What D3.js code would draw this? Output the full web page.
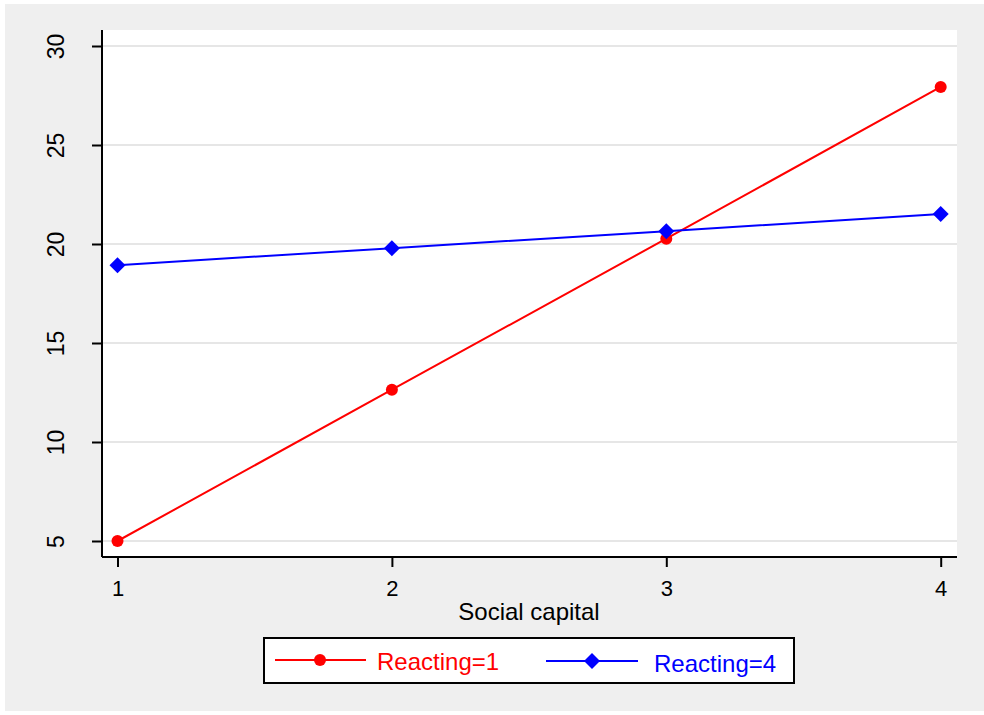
<!DOCTYPE html>
<html>
<head>
<meta charset="utf-8">
<script src="https://cdn.jsdelivr.net/npm/d3@7"></script>
<style>
  html, body { margin: 0; padding: 0; background: #ffffff; }
  svg { display: block; }
  svg text { font-family: Arial, "Liberation Sans", sans-serif; }
</style>
</head>
<body>
<svg id="chart" width="984" height="715"></svg>
<script>
// Predicted values by social capital, for two levels of reacting
const socialCapital = [1, 2, 3, 4];
const reacting1 = [5.0, 12.64, 20.27, 27.93];
const reacting4 = [18.93, 19.79, 20.65, 21.51];
const yTicks = [5, 10, 15, 20, 25, 30];
const xTicks = [1, 2, 3, 4];
const seriesNames = ["Reacting=1", "Reacting=4"];
const seriesColors = ["#ff0000", "#0000ff"];

const svg = d3.select("#chart");

// outer graph region
svg.append("rect")
  .attr("x", 5).attr("y", 4).attr("width", 979).attr("height", 707)
  .attr("fill", "#efefef");

// plot region
const plot = { left: 102, right: 957, top: 30, bottom: 557 };
svg.append("rect")
  .attr("x", plot.left).attr("y", plot.top)
  .attr("width", plot.right - plot.left).attr("height", plot.bottom - plot.top)
  .attr("fill", "#ffffff");

const x = d3.scaleLinear().domain([1, 4]).range([117.5, 940.7]);
const y = d3.scaleLinear().domain([5, 30]).range([541, 46]);

// horizontal grid
svg.append("g").selectAll("line").data(yTicks).join("line")
  .attr("x1", plot.left).attr("x2", plot.right)
  .attr("y1", d => y(d)).attr("y2", d => y(d))
  .attr("stroke", "#e6e6e6").attr("stroke-width", 2);

// y axis
const yAxis = svg.append("g")
  .attr("transform", `translate(${plot.left},0)`)
  .call(d3.axisLeft(y).tickValues(yTicks).tickSize(10).tickFormat(d3.format("d")));
yAxis.attr("font-size", null).attr("font-family", null);
yAxis.select(".domain").attr("stroke", "#000").attr("stroke-width", 2)
  .attr("d", `M0,${plot.top}V${plot.bottom}`);
yAxis.selectAll(".tick line").attr("stroke", "#000").attr("stroke-width", 2);
yAxis.selectAll(".tick text")
  .style("font-size", "23px").attr("fill", "#000")
  .attr("text-anchor", "middle")
  .attr("x", null).attr("dy", null)
  .attr("transform", "translate(-38.5,0) rotate(-90)");

// x axis
const xAxis = svg.append("g")
  .attr("transform", `translate(0,${plot.bottom})`)
  .call(d3.axisBottom(x).tickValues(xTicks).tickSize(10).tickFormat(d3.format("d")));
xAxis.attr("font-size", null).attr("font-family", null);
xAxis.select(".domain").attr("stroke", "#000").attr("stroke-width", 2)
  .attr("d", `M${plot.left},0H${plot.right}`);
xAxis.selectAll(".tick line").attr("stroke", "#000").attr("stroke-width", 2);
xAxis.selectAll(".tick text")
  .style("font-size", "22px").attr("fill", "#000")
  .attr("y", 38.5).attr("dy", null);

// axis title
svg.append("text")
  .attr("x", 529).attr("y", 620)
  .attr("text-anchor", "middle")
  .style("font-size", "24px").attr("fill", "#000")
  .text("Social capital");

// series lines
const line = d3.line().x((d, i) => x(socialCapital[i])).y(d => y(d));
[reacting1, reacting4].forEach((vals, k) => {
  svg.append("path")
    .datum(vals)
    .attr("d", line)
    .attr("fill", "none")
    .attr("stroke", seriesColors[k])
    .attr("stroke-width", 2);
});

// markers
const diamond = (cx, cy, r) => `M${cx},${cy - r}L${cx + r},${cy}L${cx},${cy + r}L${cx - r},${cy}Z`;

svg.append("g").selectAll("circle").data(reacting1).join("circle")
  .attr("cx", (d, i) => x(socialCapital[i])).attr("cy", d => y(d))
  .attr("r", 6).attr("fill", seriesColors[0]);

svg.append("g").selectAll("path").data(reacting4).join("path")
  .attr("d", (d, i) => diamond(x(socialCapital[i]), y(d), 8))
  .attr("fill", seriesColors[1]);

// legend
const lg = svg.append("g");
lg.append("rect")
  .attr("x", 264).attr("y", 638).attr("width", 530).attr("height", 45)
  .attr("fill", "#ffffff").attr("stroke", "#000").attr("stroke-width", 2);

// Reacting=1 key
lg.append("line").attr("x1", 275).attr("x2", 366).attr("y1", 660).attr("y2", 660)
  .attr("stroke", seriesColors[0]).attr("stroke-width", 2);
lg.append("circle").attr("cx", 320).attr("cy", 660).attr("r", 6).attr("fill", seriesColors[0]);
lg.append("text").attr("x", 377).attr("y", 670)
  .style("font-size", "24px").attr("fill", seriesColors[0]).text(seriesNames[0]);

// Reacting=4 key
lg.append("line").attr("x1", 546).attr("x2", 638).attr("y1", 661).attr("y2", 661)
  .attr("stroke", seriesColors[1]).attr("stroke-width", 2);
lg.append("path").attr("d", diamond(592, 661, 8)).attr("fill", seriesColors[1]);
lg.append("text").attr("x", 654).attr("y", 672)
  .style("font-size", "24px").attr("fill", seriesColors[1]).text(seriesNames[1]);
</script>
</body>
</html>
